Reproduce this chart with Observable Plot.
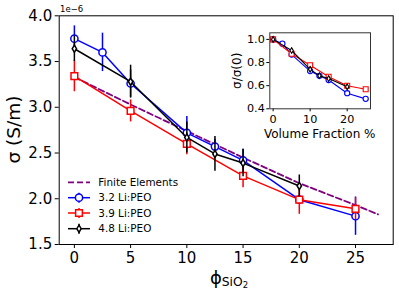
<!DOCTYPE html>
<html><head><meta charset="utf-8">
<script src="https://cdn.jsdelivr.net/npm/d3@7"></script>
<script src="https://cdn.jsdelivr.net/npm/@observablehq/plot@0.6"></script>
<style>
body{margin:0;background:#fff;font-family:"DejaVu Sans",sans-serif;}
#wrap{position:relative;width:399px;height:295px;overflow:hidden;}
#wrap svg{position:absolute;}
</style></head><body><div id="wrap"></div>
<script>
// ---- data (σ in units of 1e-6 S/m) ----
const feX = [0, 5, 10, 15, 20, 25, 27];
const feY = [3.33, 3.03, 2.74, 2.45, 2.17, 1.93, 1.83];

const s32X = [0, 2.5, 5, 10, 12.5, 15, 20, 25];
const s32Y = [3.75, 3.60, 3.26, 2.72, 2.57, 2.42, 1.99, 1.81];
const s32E = [0.14, 0.21, 0.15, 0.18, 0.08, 0.12, 0.04, 0.21];

const s39X = [0, 5, 10, 15, 20, 25];
const s39Y = [3.34, 2.96, 2.60, 2.25, 1.99, 1.89];
const s39E = [0.17, 0.12, 0.12, 0.13, 0.16, 0.12];

const s48X = [0, 5, 10, 12.5, 15, 20];
const s48Y = [3.64, 3.28, 2.67, 2.49, 2.39, 2.14];
const s48E = [0.14, 0.18, 0.17, 0.19, 0.15, 0.12];

// inset: σ/σ(0)
const n32Y = [1.0, 0.963, 0.869, 0.726, 0.685, 0.649, 0.535, 0.486];
const n39Y = [1.0, 0.876, 0.777, 0.677, 0.600, 0.569];
const n48Y = [1.0, 0.904, 0.741, 0.686, 0.661, 0.590];
const n48E = [0.02, 0.02, 0.02, 0.02, 0.02, 0.02];

const seriesNames = ["Finite Elements", "3.2 Li:PEO", "3.9 Li:PEO", "4.8 Li:PEO"];
const mainXTicks = [0, 5, 10, 15, 20, 25];
const mainYTicks = [1.5, 2.0, 2.5, 3.0, 3.5, 4.0];
const insetXTicks = [0, 10, 20];
const insetYTicks = [0.4, 0.6, 0.8, 1.0];

// ---- build tables ----
const tab = (xs, ys, es) => xs.map((x, i) => ({x, y: ys[i], e: es ? es[i] : 0}));
const fe = tab(feX, feY);
const s32 = tab(s32X, s32Y, s32E), s39 = tab(s39X, s39Y, s39E), s48 = tab(s48X, s48Y, s48E);
const n32 = tab(s32X, n32Y), n39 = tab(s39X, n39Y), n48 = tab(s48X, n48Y, n48E);

const thinDiamond = {
  draw(ctx, size) {
    const r = Math.sqrt(size / Math.PI);
    ctx.moveTo(0, -r); ctx.lineTo(r * 0.6, 0); ctx.lineTo(0, r); ctx.lineTo(-r * 0.6, 0); ctx.closePath();
  }
};
const BLUE = "#0000ff", RED = "#ff0000", BLACK = "#000000", PURPLE = "#800080";

function seriesMarks(d, color, sym, r, sw, withErr) {
  const m = [];
  if (withErr) m.push(Plot.ruleX(d, {x: "x", y1: v => v.y - v.e, y2: v => v.y + v.e, stroke: color, strokeWidth: sw}));
  m.push(Plot.line(d, {x: "x", y: "y", stroke: color, strokeWidth: sw}));
  m.push(Plot.dot(d, {x: "x", y: "y", symbol: sym, r, stroke: color, fill: "white", strokeWidth: sw}));
  return m;
}

// ---- main plot ----
const main = Plot.plot({
  width: 399, height: 295,
  marginLeft: 58.7, marginRight: 6.3, marginTop: 15.3, marginBottom: 51,
  style: {fontFamily: "DejaVu Sans", fontSize: "15px", color: "black", background: "transparent"},
  x: {domain: [-1.35, 28.35]},
  y: {domain: [1.5, 4.0]},
  marks: [
    Plot.frame({stroke: "black", strokeWidth: 1}),
    Plot.axisX({ticks: mainXTicks, tickSize: 4, tickPadding: 4, label: null, fontSize: 15}),
    Plot.axisY({ticks: mainYTicks, tickSize: 4, tickPadding: 3, tickFormat: d3.format(".1f"), label: null, fontSize: 15}),
    Plot.line(fe, {x: "x", y: "y", stroke: PURPLE, strokeWidth: 1.8, strokeDasharray: "6,3"}),
    ...seriesMarks(s32, BLUE, "circle", 3.6, 1.5, true),
    ...seriesMarks(s39, RED, "square", 3.8, 1.5, true),
    ...seriesMarks(s48, BLACK, thinDiamond, 3.6, 1.5, true)
  ]
});
document.getElementById("wrap").appendChild(main);
main.style.left = "0px"; main.style.top = "0px";

const svg = d3.select(main);
// offset text
svg.append("text").attr("x", 60).attr("y", 12.3).attr("text-anchor", "start").attr("font-size", 8.5).attr("fill", "black").text("1e\u22126");
// y label
svg.append("text").attr("transform", "translate(19.5,129.6) rotate(-90)").attr("text-anchor", "middle")
  .attr("font-size", 18.5).attr("fill", "black").text("\u03c3 (S/m)");
// x label
const xl = svg.append("text").attr("x", 229).attr("y", 284).attr("text-anchor", "middle").attr("fill", "black").attr("font-size", 18);
xl.append("tspan").text("\u03d5");
xl.append("tspan").attr("font-size", 12.3).attr("dy", 2).text("SiO");
xl.append("tspan").attr("font-size", 8.5).attr("dy", 2).text("2");

// legend
const lg = svg.append("g").attr("font-size", 10.4).attr("fill", "black").attr("text-anchor", "start");
const rows = [182.3, 197.7, 213, 228.7];
const legendSpec = [
  {c: PURPLE, dash: "6,3", sym: null},
  {c: BLUE, sym: d3.symbolCircle, r: 3.6},
  {c: RED, sym: d3.symbolSquare, r: 3.8},
  {c: BLACK, sym: thinDiamond, r: 3.6}
];
legendSpec.forEach((s, i) => {
  const y = rows[i];
  lg.append("line").attr("x1", 68).attr("x2", 90).attr("y1", y).attr("y2", y)
    .attr("stroke", s.c).attr("stroke-width", s.sym ? 1.5 : 1.8).attr("stroke-dasharray", s.dash || null);
  if (s.sym) {
    lg.append("line").attr("x1", 79).attr("x2", 79).attr("y1", y - 5).attr("y2", y + 5).attr("stroke", s.c).attr("stroke-width", 1.5);
    lg.append("path").attr("d", d3.symbol(s.sym, Math.PI * s.r * s.r)()).attr("transform", `translate(79,${y})`)
      .attr("fill", "white").attr("stroke", s.c).attr("stroke-width", 1.5);
  }
  lg.append("text").attr("x", 98.3).attr("y", y).attr("dy", "0.35em").attr("text-anchor", "start").text(seriesNames[i]);
});

// ---- inset ----
const inset = Plot.plot({
  width: 160, height: 120,
  marginLeft: 49.3, marginRight: 10, marginTop: 7.3, marginBottom: 36.7,
  style: {fontFamily: "DejaVu Sans", fontSize: "11px", color: "black", background: "transparent"},
  x: {domain: [-0.9, 26.3]},
  y: {domain: [0.4, 1.057]},
  marks: [
    Plot.frame({fill: "white", stroke: "none"}),
    Plot.axisX({ticks: insetXTicks, tickSize: 3, tickPadding: 3, label: null, fontSize: 11.2}),
    Plot.axisY({ticks: insetYTicks, tickSize: 3, tickPadding: 2, tickFormat: d3.format(".1f"), label: null, fontSize: 11.2}),
    ...seriesMarks(n32, BLUE, "circle", 2.6, 1.1, false),
    ...seriesMarks(n39, RED, "square", 2.8, 1.1, false),
    ...seriesMarks(n48, BLACK, thinDiamond, 2.8, 1.1, true),
    Plot.frame({stroke: "#333", strokeWidth: 1})
  ]
});
document.getElementById("wrap").appendChild(inset);
inset.style.left = "220px"; inset.style.top = "25px";
const isvg = d3.select(inset);
isvg.append("text").attr("x", 99.7).attr("y", 112.5).attr("text-anchor", "middle").attr("font-size", 12).attr("fill", "black").text("Volume Fraction %");
isvg.append("text").attr("transform", "translate(17,45.8) rotate(-90)").attr("text-anchor", "middle").attr("dy", "0.35em")
  .attr("font-size", 12).attr("fill", "black").text("\u03c3/\u03c3(0)");
</script></body></html>
